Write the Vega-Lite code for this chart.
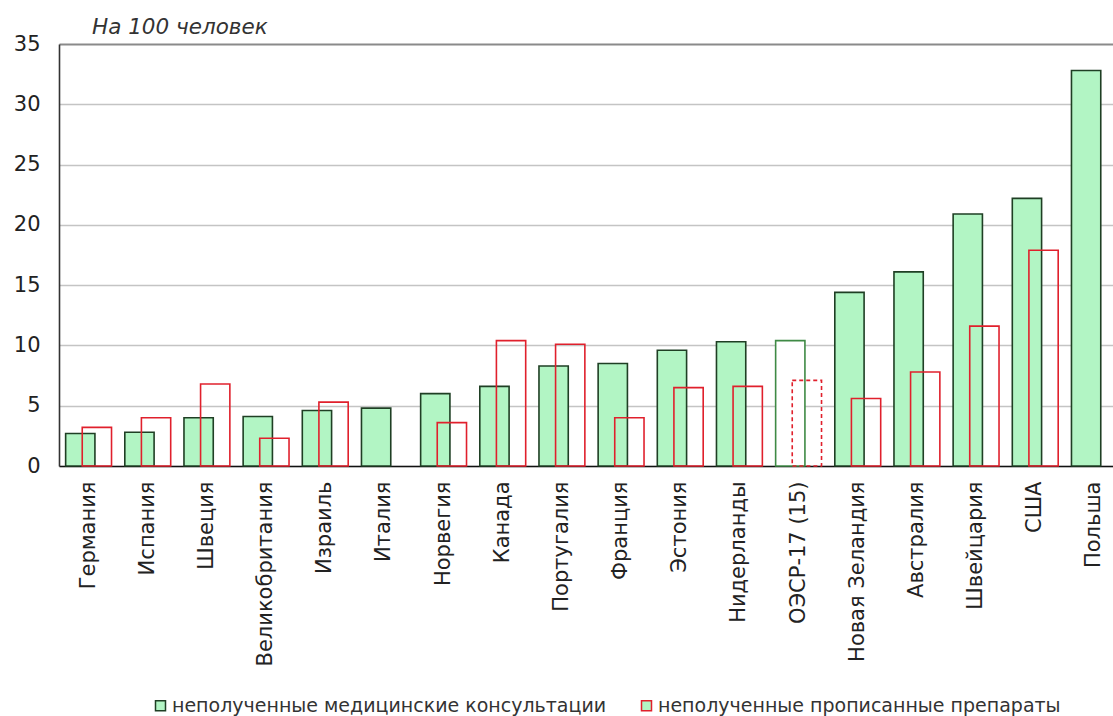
{
  "$schema": "https://vega.github.io/schema/vega-lite/v6.json",
  "width": 1054,
  "height": 422,
  "autosize": {"type": "none"},
  "padding": {"left": 59, "top": 44, "right": 0, "bottom": 250},
  "background": "white",
  "title": {
    "text": "На 100 человек",
    "anchor": "start",
    "frame": "group",
    "dx": 33,
    "dy": 32,
    "offset": 5,
    "baseline": "bottom",
    "font": "DejaVu Sans",
    "fontSize": 21.5,
    "fontStyle": "italic",
    "fontWeight": "normal",
    "color": "#333333"
  },
  "config": {
    "view": {"stroke": null},
    "font": "DejaVu Sans"
  },
  "data": {
    "values": [
      {"country": "Германия", "kind": "country", "consult": 2.7, "drugs": 3.2},
      {"country": "Испания", "kind": "country", "consult": 2.8, "drugs": 4.0},
      {"country": "Швеция", "kind": "country", "consult": 4.0, "drugs": 6.8},
      {"country": "Великобритания", "kind": "country", "consult": 4.1, "drugs": 2.3},
      {"country": "Израиль", "kind": "country", "consult": 4.6, "drugs": 5.3},
      {"country": "Италия", "kind": "country", "consult": 4.8, "drugs": null},
      {"country": "Норвегия", "kind": "country", "consult": 6.0, "drugs": 3.6},
      {"country": "Канада", "kind": "country", "consult": 6.6, "drugs": 10.4},
      {"country": "Португалия", "kind": "country", "consult": 8.3, "drugs": 10.1},
      {"country": "Франция", "kind": "country", "consult": 8.5, "drugs": 4.0},
      {"country": "Эстония", "kind": "country", "consult": 9.6, "drugs": 6.5},
      {"country": "Нидерланды", "kind": "country", "consult": 10.3, "drugs": 6.6},
      {"country": "ОЭСР-17 (15)", "kind": "avg", "consult": 10.4, "drugs": 7.1},
      {"country": "Новая Зеландия", "kind": "country", "consult": 14.4, "drugs": 5.6},
      {"country": "Австралия", "kind": "country", "consult": 16.1, "drugs": 7.8},
      {"country": "Швейцария", "kind": "country", "consult": 20.9, "drugs": 11.6},
      {"country": "США", "kind": "country", "consult": 22.2, "drugs": 17.9},
      {"country": "Польша", "kind": "country", "consult": 32.8, "drugs": null}
    ]
  },
  "encoding": {
    "x": {
      "field": "country",
      "type": "nominal",
      "sort": null,
      "scale": {"paddingInner": 0, "paddingOuter": 0, "range": [0, 1065]},
      "axis": {
        "title": null,
        "labelAngle": -90,
        "labelAlign": "right",
        "labelBaseline": "middle",
        "labelFont": "DejaVu Sans",
        "labelFontSize": 21,
        "labelColor": "#222222",
        "labelPadding": 15,
        "labelLimit": 400,
        "ticks": false,
        "domainColor": "#111111",
        "domainWidth": 1.6,
        "labelOverlap": false
      }
    }
  },
  "layer": [
    {
      "mark": {"type": "bar", "width": {"band": 0.495}, "xOffset": -8.3, "strokeWidth": 1.6},
      "encoding": {
        "y": {
          "field": "consult",
          "type": "quantitative",
          "scale": {"domain": [0, 35], "nice": false},
          "axis": {
            "title": null,
            "values": [0, 5, 10, 15, 20, 25, 30, 35],
            "labelFont": "DejaVu Sans",
            "labelFontSize": 21,
            "labelColor": "#222222",
            "labelPadding": 19,
            "ticks": false,
            "domainColor": "#333333",
            "domainWidth": 1.6,
            "grid": true,
            "gridColor": {"condition": {"test": "datum.value === 35", "value": "#8a8a8a"}, "value": "#c4c4c4"},
            "gridWidth": {"condition": {"test": "datum.value === 35", "value": 1.8}, "value": 1.3}
          }
        },
        "fill": {"condition": {"test": "datum.kind === 'avg'", "value": "#ffffff"}, "value": "#b2f5c4"},
        "stroke": {
          "datum": "неполученные медицинские консультации",
          "condition": {"test": "datum.kind === 'avg'", "value": "#3f8a45"},
          "scale": {
            "domain": ["неполученные медицинские консультации", "неполученные прописанные препараты"],
            "range": ["#1f3f24", "#e0202c"]
          },
          "legend": {
            "orient": "none",
            "legendX": 92,
            "legendY": 652,
            "direction": "horizontal",
            "title": null,
            "padding": 0,
            "symbolType": "square",
            "symbolSize": 100,
            "symbolStrokeWidth": 1.5,
            "labelFont": "DejaVu Sans",
            "labelFontSize": 19,
            "labelColor": "#333333",
            "labelLimit": 600,
            "labelOffset": 2,
            "columnPadding": 30,
            "encode": {
              "symbols": {
                "update": {
                  "fill": {"signal": "datum.value === 'неполученные медицинские консультации' ? '#b2f5c4' : '#ffffff'"},
                  "fillOpacity": {"value": 1},
                  "stroke": {"signal": "datum.value === 'неполученные медицинские консультации' ? '#2f6b35' : '#e0202c'"}
                }
              }
            }
          }
        }
      }
    },
    {
      "mark": {"type": "bar", "width": {"band": 0.495}, "xOffset": 8.3, "strokeWidth": 1.6, "fillOpacity": 0},
      "encoding": {
        "y": {"field": "drugs", "type": "quantitative"},
        "stroke": {"datum": "неполученные прописанные препараты"},
        "strokeDash": {"condition": {"test": "datum.kind === 'avg'", "value": [4, 3]}, "value": [1, 0]}
      }
    }
  ]
}
